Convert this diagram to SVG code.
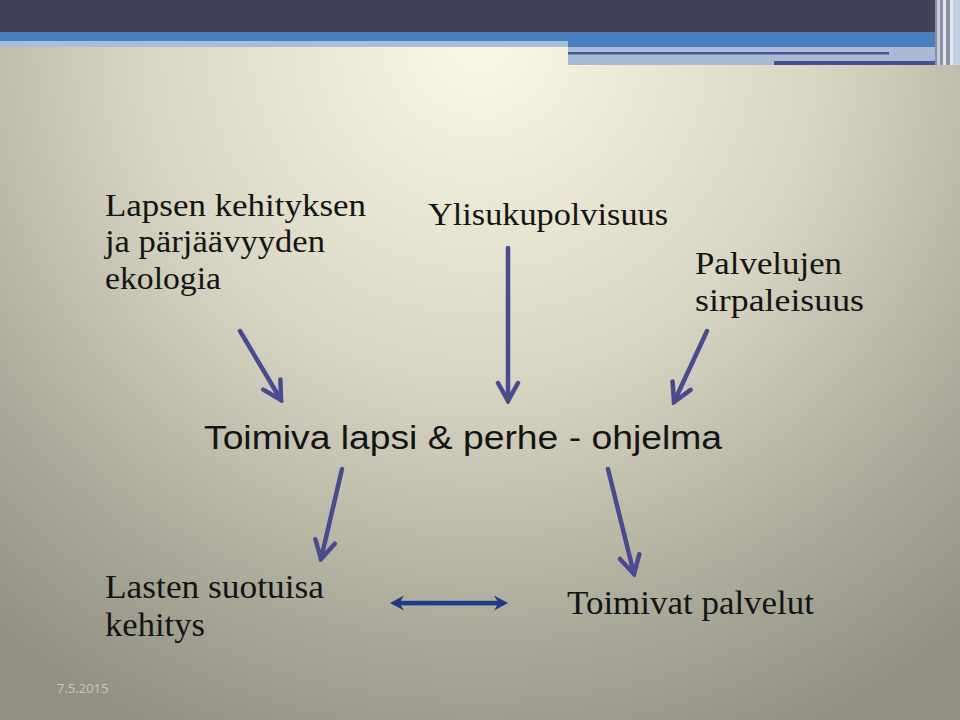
<svg xmlns="http://www.w3.org/2000/svg" width="960" height="720" viewBox="0 0 960 720">
  <defs>
    <radialGradient id="bg" gradientUnits="userSpaceOnUse" cx="480" cy="40" r="760">
      <stop offset="0" stop-color="#fcf8e6"/>
      <stop offset="0.45" stop-color="#d8d5c3"/>
      <stop offset="0.8" stop-color="#a9a797"/>
      <stop offset="1" stop-color="#939185"/>
    </radialGradient>
    <marker id="vhead" viewBox="0 0 26 26" markerWidth="26" markerHeight="26" refX="23" refY="13" orient="auto" markerUnits="userSpaceOnUse">
      <path d="M5,3 L23,13 L5,23" fill="none" stroke="#4a4b8f" stroke-width="4.5" stroke-linecap="round" stroke-linejoin="miter"/>
    </marker>
    <style>
      .serif { font-family: "Liberation Serif", "Times New Roman", serif; fill: #141414; }
      .sans { font-family: "Liberation Sans", Arial, sans-serif; fill: #141414; }
      .arrow { stroke: #4a4b8f; stroke-width: 4.5; fill: none; stroke-linecap: round; marker-end: url(#vhead); }
      .foot { font-family: "Open Sans", "Liberation Sans", sans-serif; font-size: 13px; fill: #c9c7bc; }
    </style>
  </defs>

  <!-- background -->
  <rect x="0" y="0" width="960" height="720" fill="url(#bg)"/>

  <!-- header bands -->
  <g id="header">
    <rect x="0" y="0" width="960" height="32" fill="#414257"/>
    <rect x="0" y="32" width="937" height="9" fill="#4a7fbf"/>
    <rect x="0" y="41" width="568" height="6" fill="#a8bdd9"/>
    <rect x="568" y="41" width="369" height="6" fill="#4a7fbf"/>
    <rect x="568" y="47" width="369" height="18" fill="#a9bbd4"/>
    <rect x="568" y="52" width="321" height="2.5" fill="#4a5590"/>
    <rect x="774" y="61" width="168" height="4" fill="#4a4f90"/>
    <rect x="935" y="0" width="25" height="65" fill="#8d90a4"/>
    <rect x="937" y="0" width="3" height="65" fill="#c9ccd8"/>
    <rect x="943" y="0" width="3" height="65" fill="#e4e6ee"/>
    <rect x="950" y="0" width="3" height="65" fill="#e6e8f0"/>
    <rect x="953" y="0" width="7" height="65" fill="#c2cfe6"/>
  </g>

  <!-- nodes -->
  <g id="node-ekologia">
    <text class="serif" font-size="32" x="105" y="216" textLength="261" lengthAdjust="spacingAndGlyphs">Lapsen kehityksen</text>
    <text class="serif" font-size="32" x="105" y="252" textLength="220" lengthAdjust="spacingAndGlyphs">ja pärjäävyyden</text>
    <text class="serif" font-size="32" x="105" y="289" textLength="116" lengthAdjust="spacingAndGlyphs">ekologia</text>
  </g>
  <g id="node-ylisukupolvisuus">
    <text class="serif" font-size="31" x="428" y="225" textLength="240" lengthAdjust="spacingAndGlyphs">Ylisukupolvisuus</text>
  </g>
  <g id="node-palvelujen">
    <text class="serif" font-size="31" x="695" y="274" textLength="147" lengthAdjust="spacingAndGlyphs">Palvelujen</text>
    <text class="serif" font-size="31" x="695" y="311" textLength="169" lengthAdjust="spacingAndGlyphs">sirpaleisuus</text>
  </g>
  <g id="node-ohjelma">
    <text class="sans" font-size="33" x="204" y="449" textLength="518" lengthAdjust="spacingAndGlyphs">Toimiva lapsi &amp; perhe - ohjelma</text>
  </g>
  <g id="node-kehitys">
    <text class="serif" font-size="33" x="105" y="598" textLength="219" lengthAdjust="spacingAndGlyphs">Lasten suotuisa</text>
    <text class="serif" font-size="33" x="105" y="636" textLength="100" lengthAdjust="spacingAndGlyphs">kehitys</text>
  </g>
  <g id="node-palvelut">
    <text class="serif" font-size="33" x="567" y="614" textLength="247" lengthAdjust="spacingAndGlyphs">Toimivat palvelut</text>
  </g>

  <!-- connectors -->
  <g id="connectors">
    <line class="arrow" x1="240" y1="331" x2="281" y2="400"/>
    <line class="arrow" x1="508" y1="248" x2="508" y2="401"/>
    <line class="arrow" x1="707" y1="331" x2="674" y2="402"/>
    <line class="arrow" x1="342" y1="469" x2="321" y2="559"/>
    <line class="arrow" x1="608" y1="469" x2="634" y2="574"/>
    <g fill="#1f3a86">
      <rect x="396" y="600.8" width="106" height="4.6"/>
      <path d="M508,603 L494,595.5 L498.5,603 L494,610.5 Z"/>
      <path d="M390,603 L404,595.5 L399.5,603 L404,610.5 Z"/>
    </g>
  </g>

  <!-- footer -->
  <g id="footer">
    <text class="foot" x="57" y="693">7.5.2015</text>
  </g>
</svg>
